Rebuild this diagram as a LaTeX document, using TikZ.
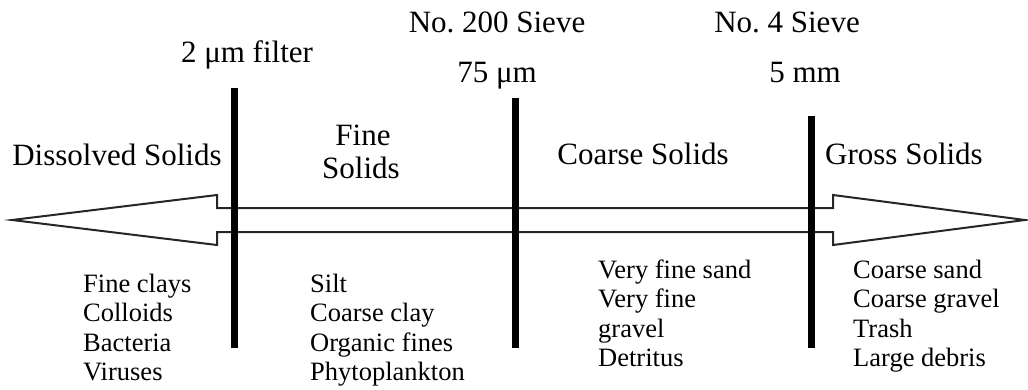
\documentclass[tikz,border=0pt]{standalone}
\usepackage{fontspec}
\setmainfont{Liberation Serif}
\begin{document}
\begin{tikzpicture}[x=1pt,y=-1pt,
  hdr/.style={inner sep=0pt,anchor=base,font=\fontsize{31}{36}\selectfont},
  itm/.style={inner sep=0pt,anchor=base west,font=\fontsize{26.5}{29.5}\selectfont},
  bar/.style={line width=7pt,black},
  outline/.style={line width=2pt,draw=black!85,line join=miter}]
\useasboundingbox (0,0) rectangle (1028,389);
% double arrow
\draw[outline] (12,220) -- (217,195) -- (217,208) -- (833,208) -- (833,195)
  -- (1025,220) -- (833,245) -- (833,232) -- (217,232) -- (217,245) -- cycle;
% bars
\coordinate (b1t) at (234,88);  \coordinate (b1b) at (234,348);
\coordinate (b2t) at (515,98);  \coordinate (b2b) at (515,348);
\coordinate (b3t) at (811,116); \coordinate (b3b) at (811,348);
\draw[bar] (b1t) -- (b1b);
\draw[bar] (b2t) -- (b2b);
\draw[bar] (b3t) -- (b3b);
% top labels
\node[hdr] (l1) at (247,62) {2 μm filter};
\node[hdr] (l2) at (497,32) {No.\ 200 Sieve};
\node[hdr] (l3) at (497,82) {75 μm};
\node[hdr] (l4) at (787,32) {No.\ 4 Sieve};
\node[hdr] (l5) at (805,82) {5 mm};
% category labels
\node[hdr] (c1) at (117,165) {Dissolved Solids};
\node[hdr] (c2a) at (363,145) {Fine};
\node[hdr] (c2b) at (361,178) {Solids};
\node[hdr] (c3) at (643,164) {Coarse Solids};
\node[hdr] (c4) at (904,164) {Gross Solids};
% lists
\node[itm] (a1) at (83,292) {Fine clays};
\node[itm] (a2) at (83,321.5) {Colloids};
\node[itm] (a3) at (83,351) {Bacteria};
\node[itm] (a4) at (83,380.5) {Viruses};
\node[itm] (f1) at (310,292) {Silt};
\node[itm] (f2) at (310,321.5) {Coarse clay};
\node[itm] (f3) at (310,351) {Organic fines};
\node[itm] (f4) at (310,380.5) {Phytoplankton};
\node[itm] (s1) at (598,278) {Very fine sand};
\node[itm] (s2) at (598,307.5) {Very fine};
\node[itm] (s3) at (598,337) {gravel};
\node[itm] (s4) at (598,366.5) {Detritus};
\node[itm] (g1) at (853,278) {Coarse sand};
\node[itm] (g2) at (853,307.5) {Coarse gravel};
\node[itm] (g3) at (853,337) {Trash};
\node[itm] (g4) at (853,366.5) {Large debris};
\end{tikzpicture}
\end{document}
